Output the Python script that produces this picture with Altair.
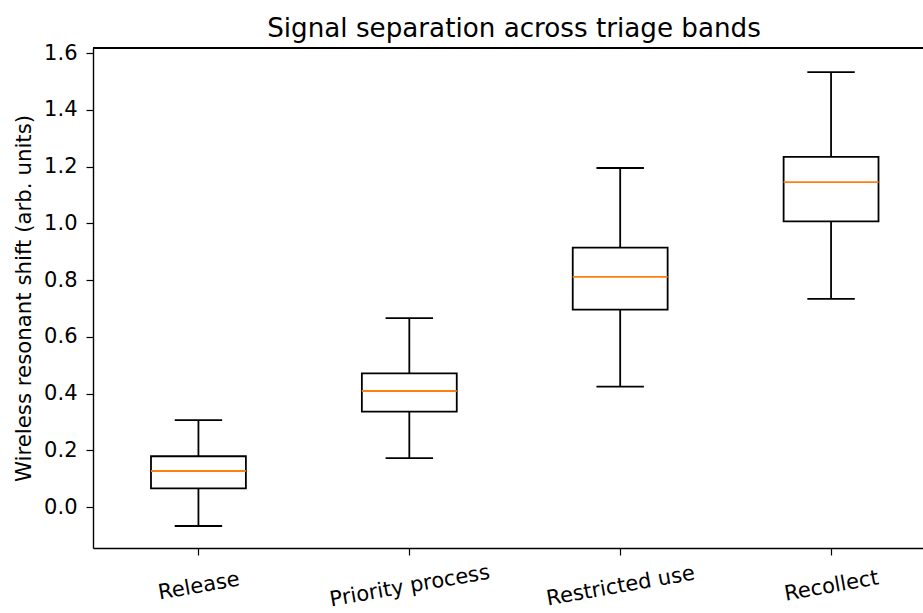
import altair as alt
import pandas as pd

categories = ["Release", "Priority process", "Restricted use", "Recollect"]
positions = [1, 2, 3, 4]
lower_whisker = [-0.067, 0.172, 0.424, 0.734]
q1 = [0.066, 0.336, 0.696, 1.007]
median = [0.127, 0.409, 0.811, 1.145]
q3 = [0.179, 0.471, 0.914, 1.234]
upper_whisker = [0.306, 0.666, 1.195, 1.533]
y_ticks = [0.0, 0.2, 0.4, 0.6, 0.8, 1.0, 1.2, 1.4, 1.6]

df = pd.DataFrame({
    "cat": categories,
    "pos": positions,
    "lo": lower_whisker,
    "q1": q1,
    "med": median,
    "q3": q3,
    "hi": upper_whisker,
})

FONT = "DejaVu Sans"
BOX_HALF = 0.225
CAP_HALF = 0.1125
SW = 1.8

label_expr = "[" + ",".join("'" + c + "'" for c in categories) + "][datum.value - 1]"

xscale = alt.Scale(domain=[0.5, 4.436], nice=False, zero=False)
yscale = alt.Scale(domain=[-0.1445, 1.618], nice=False, zero=False)

base = alt.Chart(df).transform_calculate(
    bl="datum.pos - %f" % BOX_HALF,
    br="datum.pos + %f" % BOX_HALF,
    cl="datum.pos - %f" % CAP_HALF,
    cr="datum.pos + %f" % CAP_HALF,
)

xaxis = alt.Axis(
    values=positions, labelExpr=label_expr, title=None, grid=False,
    tickSize=7, tickColor="black", tickWidth=1.2, domainColor="black", domainWidth=1.4,
    labelFont=FONT, labelFontSize=21, labelColor="black", labelAngle=350,
    labelAlign="center", labelBaseline="middle", labelPadding=31,
)
yaxis = alt.Axis(
    values=y_ticks, format=".1f", title="Wireless resonant shift (arb. units)", grid=False,
    tickSize=7, tickColor="black", tickWidth=1.2, domainColor="black", domainWidth=1.4,
    labelFont=FONT, labelFontSize=21, labelColor="black", labelPadding=9,
    titleFont=FONT, titleFontSize=21.3, titleFontWeight="normal", titleColor="black",
    titlePadding=9,
)

whisker_low = base.mark_rule(color="black", strokeWidth=SW).encode(
    x=alt.X("pos:Q", scale=xscale, axis=xaxis),
    y=alt.Y("lo:Q", scale=yscale, axis=yaxis),
    y2="q1:Q",
)
whisker_high = base.mark_rule(color="black", strokeWidth=SW).encode(
    x=alt.X("pos:Q", scale=xscale),
    y=alt.Y("q3:Q", scale=yscale),
    y2="hi:Q",
)
cap_low = base.mark_rule(color="black", strokeWidth=SW).encode(
    x=alt.X("cl:Q", scale=xscale), x2="cr:Q",
    y=alt.Y("lo:Q", scale=yscale),
)
cap_high = base.mark_rule(color="black", strokeWidth=SW).encode(
    x=alt.X("cl:Q", scale=xscale), x2="cr:Q",
    y=alt.Y("hi:Q", scale=yscale),
)
box = base.mark_rect(fill="white", stroke="black", strokeWidth=SW).encode(
    x=alt.X("bl:Q", scale=xscale), x2="br:Q",
    y=alt.Y("q1:Q", scale=yscale), y2="q3:Q",
)
med = base.mark_rule(color="#ff7f0e", strokeWidth=SW).encode(
    x=alt.X("bl:Q", scale=xscale), x2="br:Q",
    y=alt.Y("med:Q", scale=yscale),
)
top_spine = alt.Chart(df).mark_rule(color="black", strokeWidth=1.4).encode(
    x=alt.value(0), x2=alt.value(830), y=alt.value(0)
)

chart = alt.layer(
    whisker_low, whisker_high, cap_low, cap_high, box, med, top_spine
).properties(
    width=830,
    height=500,
    autosize=alt.AutoSizeParams(type="none"),
    padding={"left": 93, "top": 48, "right": 0, "bottom": 65},
    title=alt.TitleParams(
        "Signal separation across triage bands",
        font=FONT, fontSize=26.2, fontWeight="normal", color="black",
        anchor="middle", dx=6, dy=6, offset=6,
    ),
).configure_view(stroke=None).configure(background="white")

chart.save("out.html", embed_options={"renderer": "svg", "actions": False})
